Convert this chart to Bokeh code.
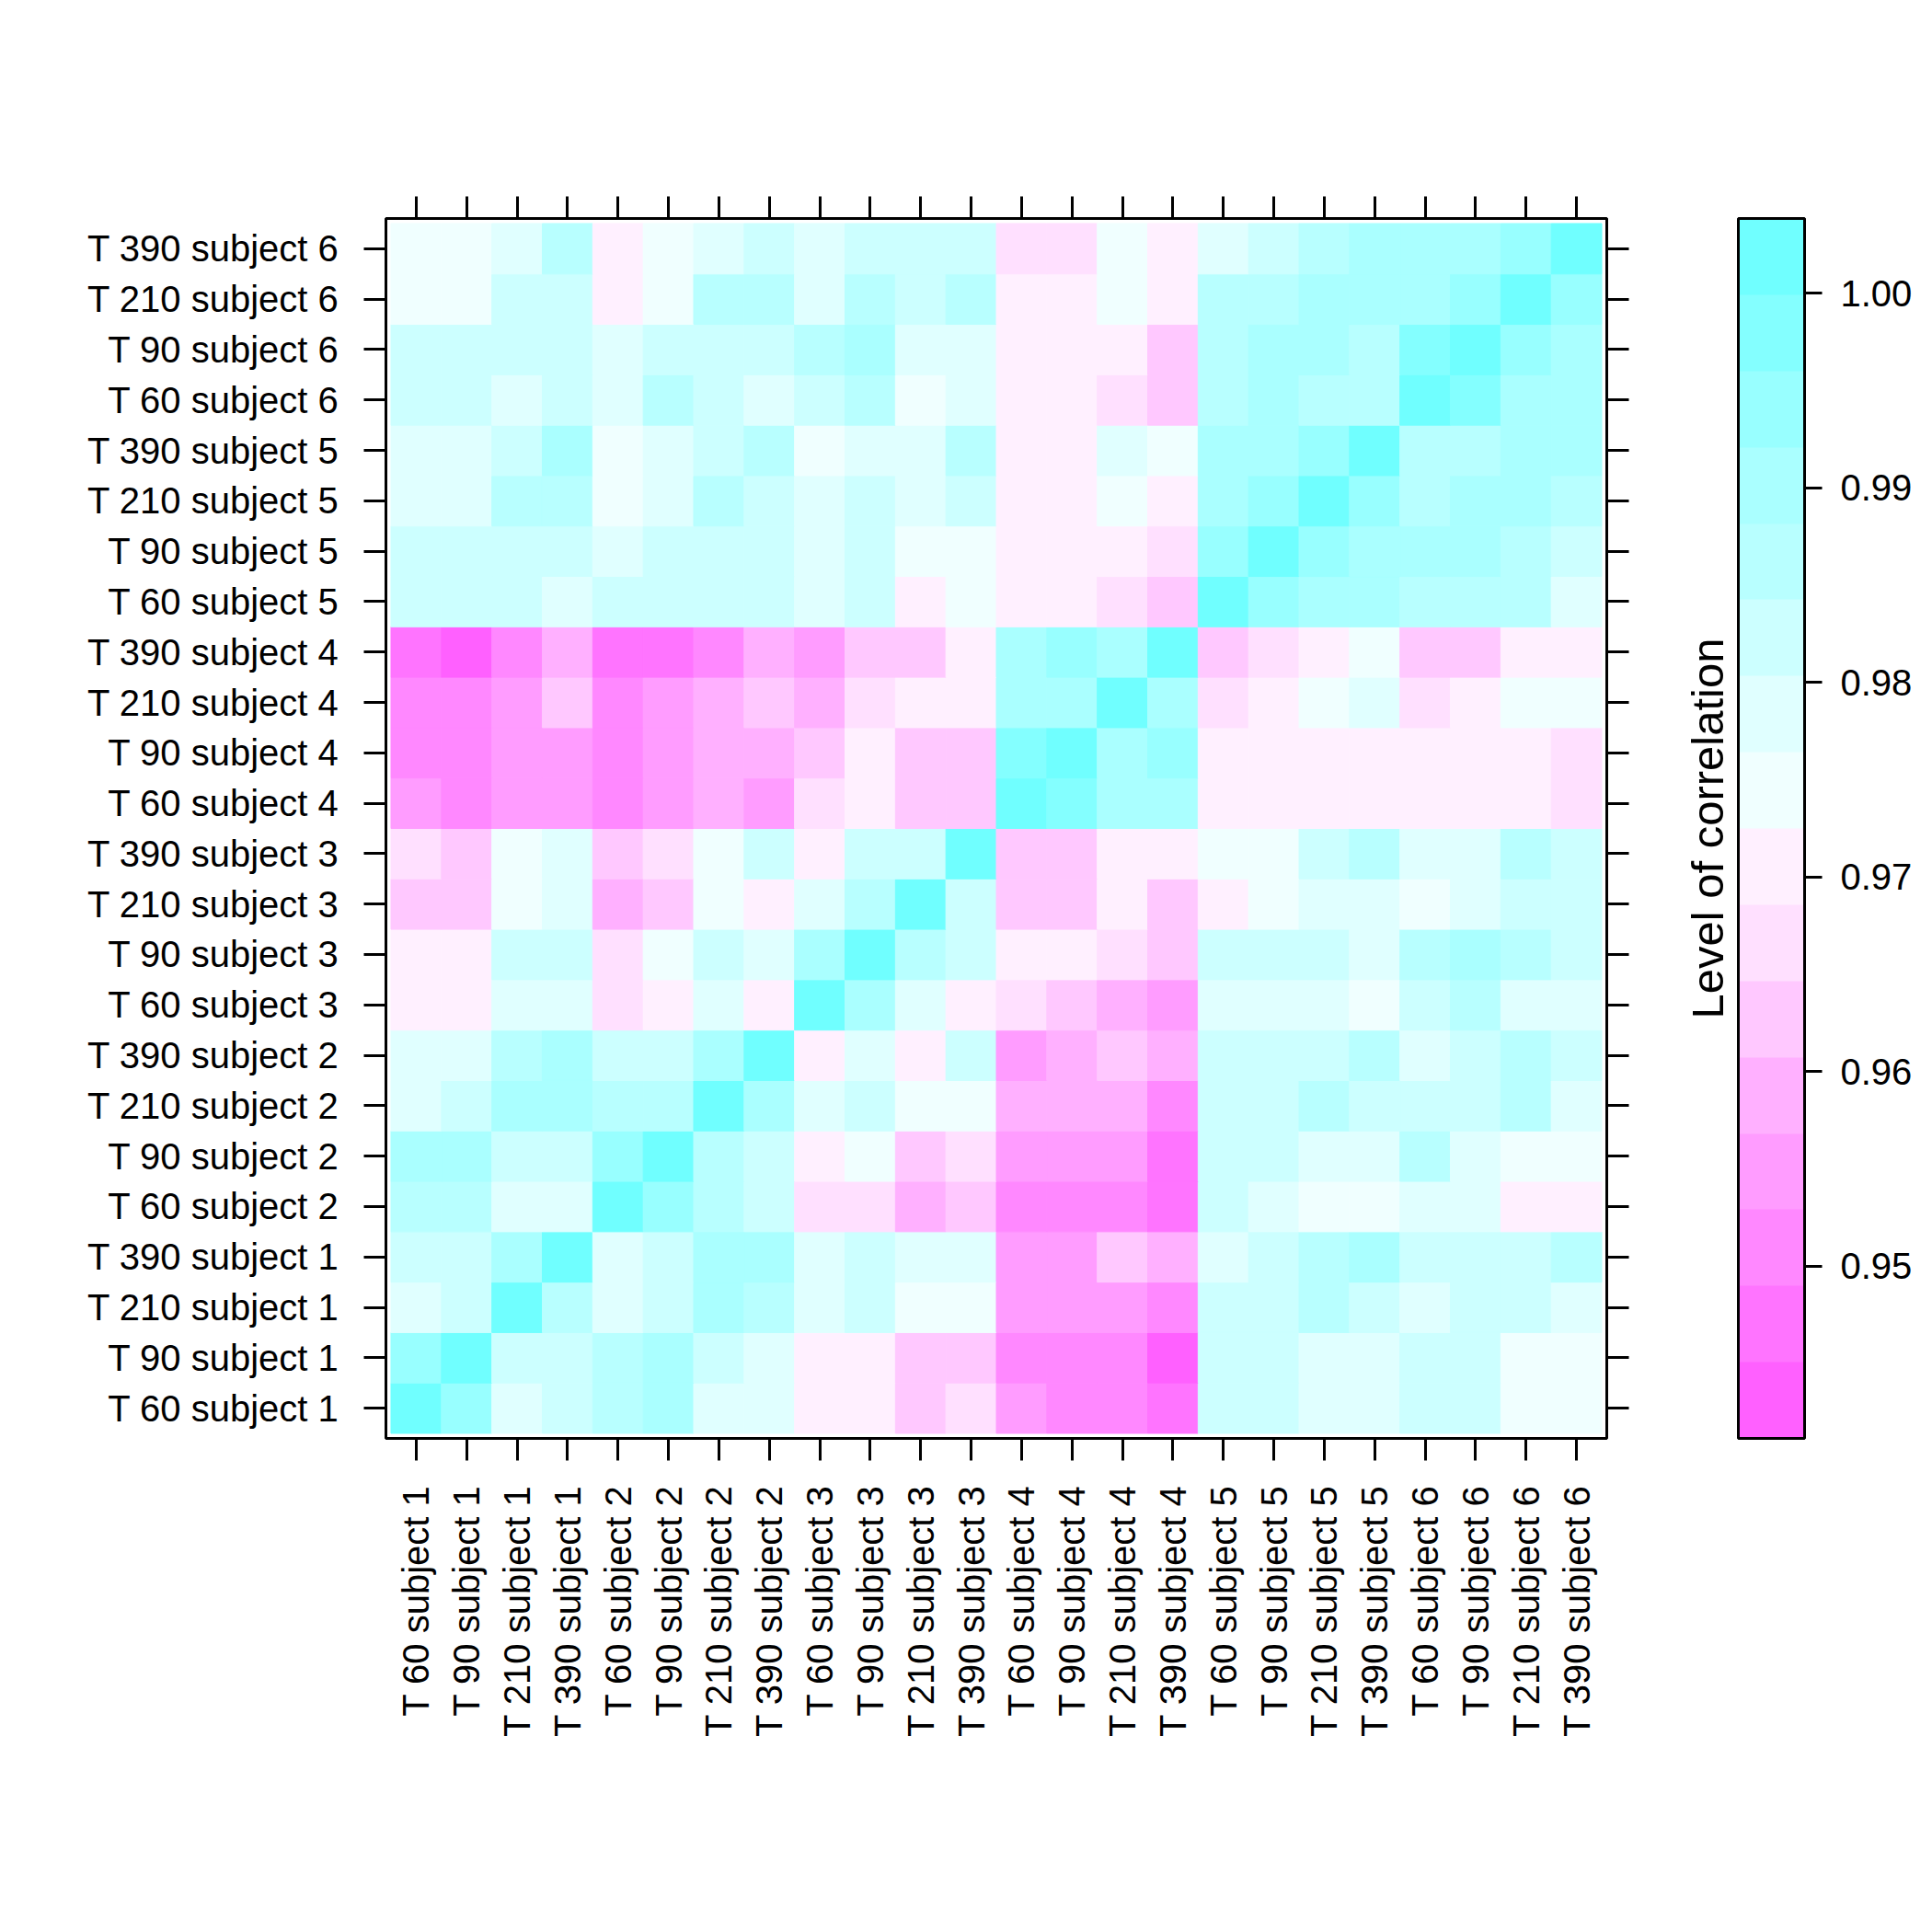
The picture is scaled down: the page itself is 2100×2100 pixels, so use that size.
import math
from bokeh.plotting import figure
from bokeh.layouts import row
from bokeh.models import (LinearColorMapper, ColorBar, FixedTicker, Range1d, LinearAxis,
                          Label, ColumnDataSource, PrintfTickFormatter)
from bokeh.transform import transform
from bokeh.embed import file_html
from bokeh.resources import INLINE

# ---- categories ----
timepoints = ["60", "90", "210", "390"]
subjects = ["1", "2", "3", "4", "5", "6"]
labels = [f"T {t} subject {s}" for s in subjects for t in timepoints]

# ---- correlation rows (bottom row first), columns in the order of `labels` ----
corr_T60_s1 = [1.000, 0.994, 0.978, 0.982, 0.986, 0.990, 0.978, 0.978, 0.971, 0.971, 0.963, 0.967, 0.955, 0.951, 0.951, 0.947, 0.982, 0.982, 0.978, 0.978, 0.982, 0.982, 0.974, 0.974]
corr_T90_s1 = [0.994, 1.000, 0.982, 0.982, 0.986, 0.990, 0.982, 0.978, 0.971, 0.971, 0.963, 0.963, 0.951, 0.951, 0.951, 0.945, 0.982, 0.982, 0.978, 0.978, 0.982, 0.982, 0.974, 0.974]
corr_T210_s1 = [0.978, 0.982, 1.000, 0.986, 0.978, 0.982, 0.990, 0.986, 0.978, 0.982, 0.974, 0.974, 0.955, 0.955, 0.955, 0.951, 0.982, 0.982, 0.986, 0.982, 0.978, 0.982, 0.982, 0.978]
corr_T390_s1 = [0.982, 0.982, 0.990, 1.000, 0.978, 0.982, 0.990, 0.990, 0.978, 0.982, 0.978, 0.978, 0.955, 0.955, 0.963, 0.959, 0.978, 0.982, 0.986, 0.990, 0.982, 0.982, 0.982, 0.986]
corr_T60_s2 = [0.986, 0.986, 0.978, 0.978, 1.000, 0.994, 0.986, 0.982, 0.967, 0.967, 0.959, 0.963, 0.951, 0.951, 0.951, 0.947, 0.982, 0.978, 0.974, 0.974, 0.978, 0.978, 0.971, 0.971]
corr_T90_s2 = [0.990, 0.990, 0.982, 0.982, 0.994, 1.000, 0.986, 0.982, 0.971, 0.974, 0.963, 0.967, 0.955, 0.955, 0.955, 0.947, 0.982, 0.982, 0.978, 0.978, 0.986, 0.978, 0.974, 0.974]
corr_T210_s2 = [0.978, 0.982, 0.990, 0.990, 0.986, 0.986, 1.000, 0.990, 0.978, 0.982, 0.974, 0.974, 0.959, 0.959, 0.959, 0.951, 0.982, 0.982, 0.986, 0.982, 0.982, 0.982, 0.986, 0.978]
corr_T390_s2 = [0.978, 0.978, 0.986, 0.990, 0.982, 0.982, 0.990, 1.000, 0.971, 0.978, 0.971, 0.982, 0.955, 0.959, 0.963, 0.959, 0.982, 0.982, 0.982, 0.986, 0.978, 0.982, 0.986, 0.982]
corr_T60_s3 = [0.971, 0.971, 0.978, 0.978, 0.967, 0.971, 0.978, 0.971, 1.000, 0.990, 0.978, 0.971, 0.967, 0.963, 0.959, 0.955, 0.978, 0.978, 0.978, 0.974, 0.982, 0.986, 0.978, 0.978]
corr_T90_s3 = [0.971, 0.971, 0.982, 0.982, 0.967, 0.974, 0.982, 0.978, 0.990, 1.000, 0.986, 0.982, 0.971, 0.971, 0.967, 0.963, 0.982, 0.982, 0.982, 0.978, 0.986, 0.990, 0.986, 0.982]
corr_T210_s3 = [0.963, 0.963, 0.974, 0.978, 0.959, 0.963, 0.974, 0.971, 0.978, 0.986, 1.000, 0.982, 0.963, 0.963, 0.971, 0.963, 0.971, 0.974, 0.978, 0.978, 0.974, 0.978, 0.982, 0.982]
corr_T390_s3 = [0.967, 0.963, 0.974, 0.978, 0.963, 0.967, 0.974, 0.982, 0.971, 0.982, 0.982, 1.000, 0.963, 0.963, 0.971, 0.971, 0.974, 0.974, 0.982, 0.986, 0.978, 0.978, 0.986, 0.982]
corr_T60_s4 = [0.955, 0.951, 0.955, 0.955, 0.951, 0.955, 0.959, 0.955, 0.967, 0.971, 0.963, 0.963, 1.000, 0.998, 0.990, 0.990, 0.971, 0.971, 0.971, 0.971, 0.971, 0.971, 0.971, 0.967]
corr_T90_s4 = [0.951, 0.951, 0.955, 0.955, 0.951, 0.955, 0.959, 0.959, 0.963, 0.971, 0.963, 0.963, 0.998, 1.000, 0.990, 0.994, 0.971, 0.971, 0.971, 0.971, 0.971, 0.971, 0.971, 0.967]
corr_T210_s4 = [0.951, 0.951, 0.955, 0.963, 0.951, 0.955, 0.959, 0.963, 0.959, 0.967, 0.971, 0.971, 0.990, 0.990, 1.000, 0.990, 0.967, 0.971, 0.974, 0.978, 0.967, 0.971, 0.974, 0.974]
corr_T390_s4 = [0.947, 0.945, 0.951, 0.959, 0.947, 0.947, 0.951, 0.959, 0.955, 0.963, 0.963, 0.971, 0.990, 0.994, 0.990, 1.000, 0.963, 0.967, 0.971, 0.974, 0.963, 0.963, 0.971, 0.971]
corr_T60_s5 = [0.982, 0.982, 0.982, 0.978, 0.982, 0.982, 0.982, 0.982, 0.978, 0.982, 0.971, 0.974, 0.971, 0.971, 0.967, 0.963, 1.000, 0.994, 0.990, 0.990, 0.986, 0.986, 0.986, 0.978]
corr_T90_s5 = [0.982, 0.982, 0.982, 0.982, 0.978, 0.982, 0.982, 0.982, 0.978, 0.982, 0.974, 0.974, 0.971, 0.971, 0.971, 0.967, 0.994, 1.000, 0.994, 0.990, 0.990, 0.990, 0.986, 0.982]
corr_T210_s5 = [0.978, 0.978, 0.986, 0.986, 0.974, 0.978, 0.986, 0.982, 0.978, 0.982, 0.978, 0.982, 0.971, 0.971, 0.974, 0.971, 0.990, 0.994, 1.000, 0.994, 0.986, 0.990, 0.990, 0.986]
corr_T390_s5 = [0.978, 0.978, 0.982, 0.990, 0.974, 0.978, 0.982, 0.986, 0.974, 0.978, 0.978, 0.986, 0.971, 0.971, 0.978, 0.974, 0.990, 0.990, 0.994, 1.000, 0.986, 0.986, 0.990, 0.990]
corr_T60_s6 = [0.982, 0.982, 0.978, 0.982, 0.978, 0.986, 0.982, 0.978, 0.982, 0.986, 0.974, 0.978, 0.971, 0.971, 0.967, 0.963, 0.986, 0.990, 0.986, 0.986, 1.000, 0.998, 0.990, 0.990]
corr_T90_s6 = [0.982, 0.982, 0.982, 0.982, 0.978, 0.982, 0.982, 0.982, 0.986, 0.990, 0.978, 0.978, 0.971, 0.971, 0.971, 0.963, 0.986, 0.990, 0.990, 0.986, 0.998, 1.000, 0.994, 0.990]
corr_T210_s6 = [0.974, 0.974, 0.982, 0.982, 0.971, 0.974, 0.986, 0.986, 0.978, 0.986, 0.982, 0.986, 0.971, 0.971, 0.974, 0.971, 0.986, 0.986, 0.990, 0.990, 0.990, 0.994, 1.000, 0.994]
corr_T390_s6 = [0.974, 0.974, 0.978, 0.986, 0.971, 0.974, 0.978, 0.982, 0.978, 0.982, 0.982, 0.982, 0.967, 0.967, 0.974, 0.971, 0.978, 0.982, 0.986, 0.990, 0.990, 0.990, 0.994, 1.000]

rows = [corr_T60_s1, corr_T90_s1, corr_T210_s1, corr_T390_s1,
        corr_T60_s2, corr_T90_s2, corr_T210_s2, corr_T390_s2,
        corr_T60_s3, corr_T90_s3, corr_T210_s3, corr_T390_s3,
        corr_T60_s4, corr_T90_s4, corr_T210_s4, corr_T390_s4,
        corr_T60_s5, corr_T90_s5, corr_T210_s5, corr_T390_s5,
        corr_T60_s6, corr_T90_s6, corr_T210_s6, corr_T390_s6]

# ---- colour key ----
palette = ["#FF60FF", "#FF74FF", "#FF88FF", "#FF9CFF", "#FFB0FF", "#FFC8FF", "#FFE0FF", "#FFF0FF",
           "#F0FFFF", "#E0FFFF", "#CCFFFF", "#B8FFFF", "#AAFFFF", "#98FFFF", "#84FFFF", "#70FFFF"]
colorbar_ticks = [0.95, 0.96, 0.97, 0.98, 0.99, 1.00]
colorbar_title = "Level of correlation"

FONT = "Liberation Sans"
n = len(labels)

xs, ys, zs = [], [], []
for i, r in enumerate(rows):
    for j, v in enumerate(r):
        xs.append(j + 1)
        ys.append(i + 1)
        zs.append(v)
src = ColumnDataSource(dict(x=xs, y=ys, z=zs))

zmin, zmax = min(zs), max(zs)
pad = 0.07 * (zmax - zmin)
mapper = LinearColorMapper(palette=palette, low=zmin - pad, high=zmax + pad)

# ---- main heatmap ----
LEFT, FRAME_W, RIGHT = 419, 1327, 40
TOP, FRAME_H, BOTTOM = 237, 1326, 537
p = figure(width=LEFT + FRAME_W + RIGHT, height=TOP + FRAME_H + BOTTOM,
           x_range=Range1d(0.4, n + 0.6), y_range=Range1d(0.4, n + 0.6),
           output_backend="svg", toolbar_location=None,
           min_border_left=LEFT, min_border_right=RIGHT,
           min_border_top=TOP, min_border_bottom=BOTTOM)
p.grid.visible = False
p.outline_line_color = "black"
p.outline_line_width = 3
p.background_fill_color = "white"
p.border_fill_color = "white"

p.rect(x="x", y="y", width=1, height=1, source=src,
       fill_color=transform("z", mapper), line_color=transform("z", mapper), line_width=1)


def style_axis(ax, show_labels):
    ax.ticker = FixedTicker(ticks=list(range(1, n + 1)))
    if show_labels:
        ax.major_label_overrides = {i + 1: lab for i, lab in enumerate(labels)}
        ax.major_label_standoff = 27
    else:
        ax.major_label_overrides = {i + 1: "" for i in range(n)}
        ax.major_label_standoff = 0
    ax.major_tick_out = 24
    ax.major_tick_in = 0
    ax.minor_tick_out = 0
    ax.minor_tick_in = 0
    ax.major_tick_line_color = "black"
    ax.major_tick_line_width = 3
    ax.axis_line_color = None
    ax.major_label_text_font = FONT
    ax.major_label_text_font_size = "40px"
    ax.major_label_text_color = "black"


style_axis(p.xaxis[0], True)
p.xaxis[0].major_label_orientation = math.pi / 2
style_axis(p.yaxis[0], True)

ax_top = LinearAxis()
style_axis(ax_top, False)
p.add_layout(ax_top, "above")
ax_right = LinearAxis()
style_axis(ax_right, False)
p.add_layout(ax_right, "right")

# ---- colour key panel ----
KEY_W = 2100 - (LEFT + FRAME_W + RIGHT)
key_left = LEFT + FRAME_W + RIGHT
k = figure(width=KEY_W, height=TOP + FRAME_H + BOTTOM,
           x_range=Range1d(0, 1), y_range=Range1d(0, 1),
           output_backend="svg", toolbar_location=None,
           x_axis_location=None, y_axis_location=None,
           min_border_left=0, min_border_right=0,
           min_border_top=TOP, min_border_bottom=BOTTOM)
k.grid.visible = False
k.outline_line_color = None
k.background_fill_color = "white"
k.border_fill_color = "white"

cb = ColorBar(color_mapper=mapper, location=(1889 - key_left, 0), width=72, height=FRAME_H,
              padding=0, margin=0, orientation="vertical",
              ticker=FixedTicker(ticks=colorbar_ticks),
              formatter=PrintfTickFormatter(format="%.2f"),
              major_tick_out=19, major_tick_in=0,
              major_tick_line_color="black", major_tick_line_width=3,
              label_standoff=20,
              major_label_text_font=FONT, major_label_text_font_size="40px",
              major_label_text_color="black",
              bar_line_color="black", bar_line_width=3,
              border_line_color=None, background_fill_color=None)
k.add_layout(cb, "center")

title = Label(x=1855 - key_left, y=1563 - 900, x_units="screen", y_units="screen",
              text=colorbar_title, angle=math.pi / 2,
              text_align="center", text_baseline="middle",
              text_font=FONT, text_font_size="49px", text_color="black")
k.add_layout(title)

layout = row(p, k, spacing=0)
open("out.html", "w").write(file_html(layout, INLINE))
